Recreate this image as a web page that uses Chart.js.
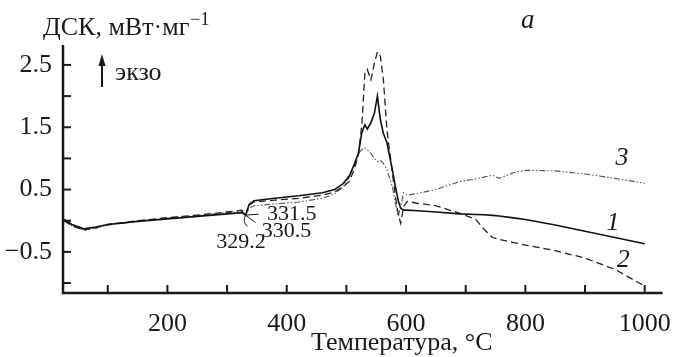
<!DOCTYPE html>
<html>
<head>
<meta charset="utf-8">
<script src="https://cdn.jsdelivr.net/npm/chart.js@4.4.0/dist/chart.umd.min.js"></script>
<style>
  html, body { margin: 0; padding: 0; background: #fff; }
  #wrap { width: 679px; height: 357px; }
</style>
</head>
<body>
<div id="wrap"><canvas id="dscChart" width="679" height="357"></canvas></div>
<script>
// temperature, °C (shared by all three curves)
const temps = [27, 40, 60, 80, 100, 150, 200, 250, 300, 325, 331, 337, 345, 380, 420, 460, 480, 495, 505, 513,
  520, 526, 531, 535, 541, 547, 552, 557, 562, 568, 577, 582, 587, 591, 596, 602, 620, 650, 690, 717,
  730, 745, 756, 780, 800, 850, 900, 950, 1000];

// DSC signal, mW/mg
const curve1 = [0.02, -0.06, -0.13, -0.10, -0.06, -0.01, 0.03, 0.07, 0.11, 0.13, 0.09, 0.26, 0.32, 0.36, 0.40, 0.45, 0.50, 0.60, 0.72, 0.90,
  1.08, 1.42, 1.54, 1.47, 1.57, 1.73, 2.00, 1.62, 1.40, 1.25, 0.82, 0.55, 0.32, 0.20, 0.17, 0.17, 0.16, 0.14, 0.11, 0.10,
  0.095, 0.085, 0.075, 0.045, 0.02, -0.07, -0.17, -0.27, -0.37];
const curve2 = [0.00, -0.08, -0.15, -0.11, -0.06, 0.00, 0.05, 0.09, 0.14, 0.17, 0.09, 0.25, 0.30, 0.33, 0.36, 0.41, 0.46, 0.55, 0.63, 0.82,
  1.05, 1.55, 2.37, 2.43, 2.26, 2.53, 2.71, 2.64, 2.26, 1.46, 0.77, 0.40, 0.10, -0.04, 0.23, 0.31, 0.28, 0.24, 0.12, 0.02,
  -0.13, -0.27, -0.30, -0.35, -0.39, -0.48, -0.60, -0.78, -1.05];
const curve3 = [0.00, -0.08, -0.15, -0.12, -0.07, -0.01, 0.04, 0.08, 0.13, 0.15, 0.09, 0.20, 0.24, 0.27, 0.30, 0.36, 0.43, 0.55, 0.70, 0.88,
  1.08, 1.14, 1.17, 1.14, 1.08, 1.00, 0.95, 0.97, 0.92, 0.82, 0.55, 0.28, 0.07, 0.23, 0.45, 0.41, 0.44, 0.50, 0.63, 0.67,
  0.70, 0.73, 0.68, 0.77, 0.81, 0.80, 0.75, 0.68, 0.60];

const xTickVals = [100, 200, 300, 400, 500, 600, 700, 800, 900, 1000];
const yTickVals = [-1, -0.5, 0, 0.5, 1, 1.5, 2, 2.5];
const onsetLabels = ['331.5', '330.5', '329.2'];

const SERIF = '"Liberation Serif", "DejaVu Serif", serif';
const INK = '#1a1a1a';

function toPoints(vals) {
  return temps.map((t, i) => ({ x: t, y: vals[i] }));
}

const decor = {
  id: 'decor',
  afterDraw(chart) {
    const { ctx, chartArea: a, scales: { x, y } } = chart;
    const X = v => x.getPixelForValue(v);
    const Y = v => y.getPixelForValue(v);
    ctx.save();
    ctx.strokeStyle = INK;
    ctx.fillStyle = INK;

    // axes
    ctx.lineWidth = 2.5;
    ctx.beginPath();
    ctx.moveTo(a.left, a.top);
    ctx.lineTo(a.left, a.bottom);
    ctx.lineTo(a.right, a.bottom);
    ctx.stroke();

    // inward ticks
    ctx.lineWidth = 2;
    xTickVals.forEach(v => {
      ctx.beginPath();
      ctx.moveTo(X(v), a.bottom);
      ctx.lineTo(X(v), a.bottom - 8);
      ctx.stroke();
    });
    yTickVals.forEach(v => {
      ctx.beginPath();
      ctx.moveTo(a.left, Y(v));
      ctx.lineTo(a.left + 8, Y(v));
      ctx.stroke();
    });

    // axis titles
    ctx.textBaseline = 'alphabetic';
    ctx.textAlign = 'left';
    ctx.font = '26px ' + SERIF;
    ctx.fillText('Температура, °С', 311, 350);
    ctx.fillText('ДСК, мВт·мг', 43, 35);
    const w = ctx.measureText('ДСК, мВт·мг').width;
    ctx.font = '18px ' + SERIF;
    ctx.fillText('−1', 43 + w + 1, 25);

    // exo arrow
    ctx.lineWidth = 2;
    ctx.beginPath();
    ctx.moveTo(102, 87);
    ctx.lineTo(102, 62);
    ctx.stroke();
    ctx.beginPath();
    ctx.moveTo(102, 54);
    ctx.lineTo(98.5, 66);
    ctx.lineTo(105.5, 66);
    ctx.closePath();
    ctx.fill();
    ctx.font = '26px ' + SERIF;
    ctx.fillText('экзо', 115, 80);

    // panel letter
    ctx.font = 'italic 27px ' + SERIF;
    ctx.fillText('a', 521, 28);

    // onset temperature notes
    ctx.lineWidth = 1;
    const jx = X(331), jy = Y(0.09);
    ctx.beginPath();
    ctx.moveTo(jx, jy); ctx.lineTo(X(353), Y(0.105));
    ctx.moveTo(jx, jy); ctx.lineTo(X(348), Y(-0.03));
    ctx.moveTo(jx, jy); ctx.quadraticCurveTo(X(325), Y(-0.02), X(334), Y(-0.09));
    ctx.stroke();
    ctx.font = '22px ' + SERIF;
    ctx.fillText(onsetLabels[0], X(367), Y(0.013));
    ctx.fillText(onsetLabels[1], X(358), Y(-0.26));
    ctx.fillText(onsetLabels[2], X(282), Y(-0.44));

    // curve numbers
    ctx.font = 'italic 26px ' + SERIF;
    ctx.fillText('3', X(951), Y(0.90));
    ctx.fillText('1', X(936), Y(-0.15));
    ctx.fillText('2', X(953), Y(-0.74));
    ctx.restore();
  }
};

new Chart(document.getElementById('dscChart'), {
  type: 'line',
  data: {
    datasets: [
      { label: '1', data: toPoints(curve1), borderColor: '#111', borderWidth: 1.6 },
      { label: '2', data: toPoints(curve2), borderColor: '#222', borderWidth: 1.3, borderDash: [7, 4] },
      { label: '3', data: toPoints(curve3), borderColor: '#555', borderWidth: 1.1, borderDash: [6, 2, 1.5, 2, 1.5, 2] }
    ]
  },
  options: {
    responsive: false,
    animation: false,
    devicePixelRatio: 1,
    elements: { point: { radius: 0 }, line: { tension: 0, fill: false } },
    layout: { padding: { top: 45, right: 10, left: 0, bottom: 0 } },
    plugins: { legend: { display: false }, tooltip: { enabled: false } },
    scales: {
      x: {
        type: 'linear',
        min: 25,
        max: 1030,
        grid: { display: false },
        border: { display: false },
        afterBuildTicks: s => { s.ticks = xTickVals.map(v => ({ value: v })); },
        afterFit: s => { s.height = 64; },
        ticks: {
          padding: 8,
          color: INK,
          font: { family: SERIF, size: 26 },
          maxRotation: 0,
          autoSkip: false,
          callback: v => (v % 200 === 0 ? String(v) : '')
        }
      },
      y: {
        type: 'linear',
        min: -1.16,
        max: 2.82,
        grid: { display: false },
        border: { display: false },
        afterBuildTicks: s => { s.ticks = yTickVals.map(v => ({ value: v })); },
        afterFit: s => { s.width = 63; },
        ticks: {
          padding: 3,
          color: INK,
          font: { family: SERIF, size: 26 },
          autoSkip: false,
          callback: v => (Math.round(v * 2) % 2 !== 0 ? (v < 0 ? '−' + Math.abs(v).toFixed(1) : v.toFixed(1)) : '')
        }
      }
    }
  },
  plugins: [decor]
});
</script>
</body>
</html>
